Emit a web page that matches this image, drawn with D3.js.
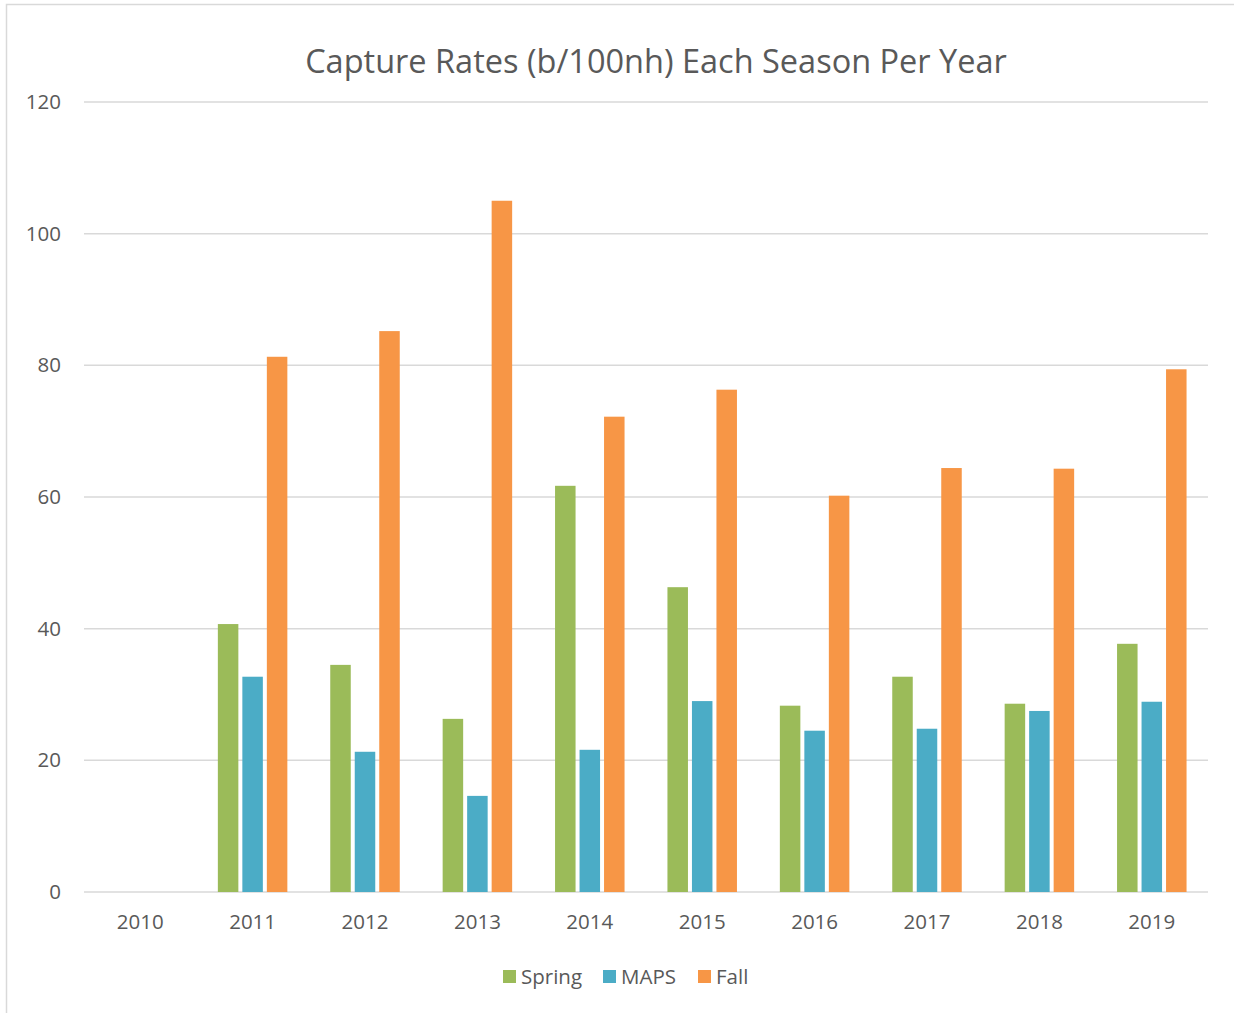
<!DOCTYPE html>
<html>
<head>
<meta charset="utf-8">
<script src="https://cdn.jsdelivr.net/npm/d3@7"></script>
<style>
  body { margin: 0; background: #fff; }
  svg text { font-family: "Open Sans", sans-serif; fill: #595959; }
</style>
</head>
<body>
<script>
// data
var years = ["2010", "2011", "2012", "2013", "2014", "2015", "2016", "2017", "2018", "2019"];
var seasons = ["Spring", "MAPS", "Fall"];
var spring = [0, 40.7, 34.5, 26.3, 61.7, 46.3, 28.3, 32.7, 28.6, 37.7];
var maps = [0, 32.7, 21.3, 14.6, 21.6, 29.0, 24.5, 24.8, 27.5, 28.9];
var fall = [0, 81.3, 85.2, 105.0, 72.2, 76.3, 60.2, 64.4, 64.3, 79.4];
var yTicks = [0, 20, 40, 60, 80, 100, 120];
var colors = ["#9bbb59", "#4bacc6", "#f79646"];

var width = 1234, height = 1013;
var plotLeft = 84, plotRight = 1208, plotTop = 102, plotBottom = 892;
var fontSize = 20.5;

var svg = d3.select("body").append("svg")
	.attr("width", width)
	.attr("height", height);

// chart frame (only left/top edges show in the picture)
svg.append("path")
	.attr("d", "M6.5,1013 V4.5 H1234")
	.attr("fill", "none")
	.attr("stroke", "#d9d9d9")
	.attr("stroke-width", 1.5);

var y = d3.scaleLinear().domain([0, 120]).range([plotBottom, plotTop]);
var x = d3.scaleBand().domain(years).range([plotLeft, plotRight]).padding(0);
var groupW = 69.5;
var xs = d3.scaleBand().domain(seasons).range([0, groupW]).paddingInner(0.163).paddingOuter(0);

//gridlines
svg.append("g").selectAll("line")
	.data(yTicks)
	.join("line")
	.attr("x1", plotLeft).attr("x2", plotRight)
	.attr("y1", function (d) { return y(d); })
	.attr("y2", function (d) { return y(d); })
	.attr("stroke", "#d9d9d9")
	.attr("stroke-width", 1.5);

// y axis labels
var yAxis = d3.axisLeft(y).tickValues(yTicks).tickSize(0).tickPadding(0);
var gy = svg.append("g").attr("transform", "translate(61,0)").call(yAxis);
gy.select(".domain").remove();
gy.selectAll("text")
	.attr("font-size", fontSize)
	.attr("font-family", null)
	.attr("fill", null);

// x axis labels
var xAxis = d3.axisBottom(x).tickSize(0).tickPadding(0);
var gx = svg.append("g").attr("transform", "translate(0," + 914 + ")").call(xAxis);
gx.select(".domain").remove();
gx.selectAll("text")
	.attr("font-size", fontSize)
	.attr("font-family", null)
	.attr("fill", null);

// bars
var series = [spring, maps, fall];
var rows = [];
years.forEach(function (yr, i) {
	seasons.forEach(function (s, j) {
		rows.push({ year: yr, season: s, value: series[j][i], color: colors[j] });
	});
});

var offset = (x.bandwidth() - groupW) / 2;
svg.append("g").selectAll("rect")
	.data(rows.filter(function (d) { return d.value > 0; }))
	.join("rect")
	.attr("x", function (d) { return x(d.year) + offset + xs(d.season); })
	.attr("width", xs.bandwidth())
	.attr("y", function (d) { return y(d.value); })
	.attr("height", function (d) { return y(0) - y(d.value); })
	.attr("fill", function (d) { return d.color; });

// title
svg.append("text")
	.attr("x", 656)
	.attr("y", 73)
	.attr("text-anchor", "middle")
	.attr("font-size", 32.5)
	.text("Capture Rates (b/100nh) Each Season Per Year");

// legend
var legendX = [503, 603, 698];
var lg = svg.append("g").selectAll("g")
	.data(seasons)
	.join("g")
	.attr("transform", function (d, i) { return "translate(" + legendX[i] + ",970)"; });
lg.append("rect")
	.attr("width", 13).attr("height", 13)
	.attr("fill", function (d, i) { return colors[i]; });
lg.append("text")
	.attr("x", 18)
	.attr("y", 14)
	.attr("font-size", fontSize)
	.text(function (d) { return d; });
</script>
</body>
</html>
